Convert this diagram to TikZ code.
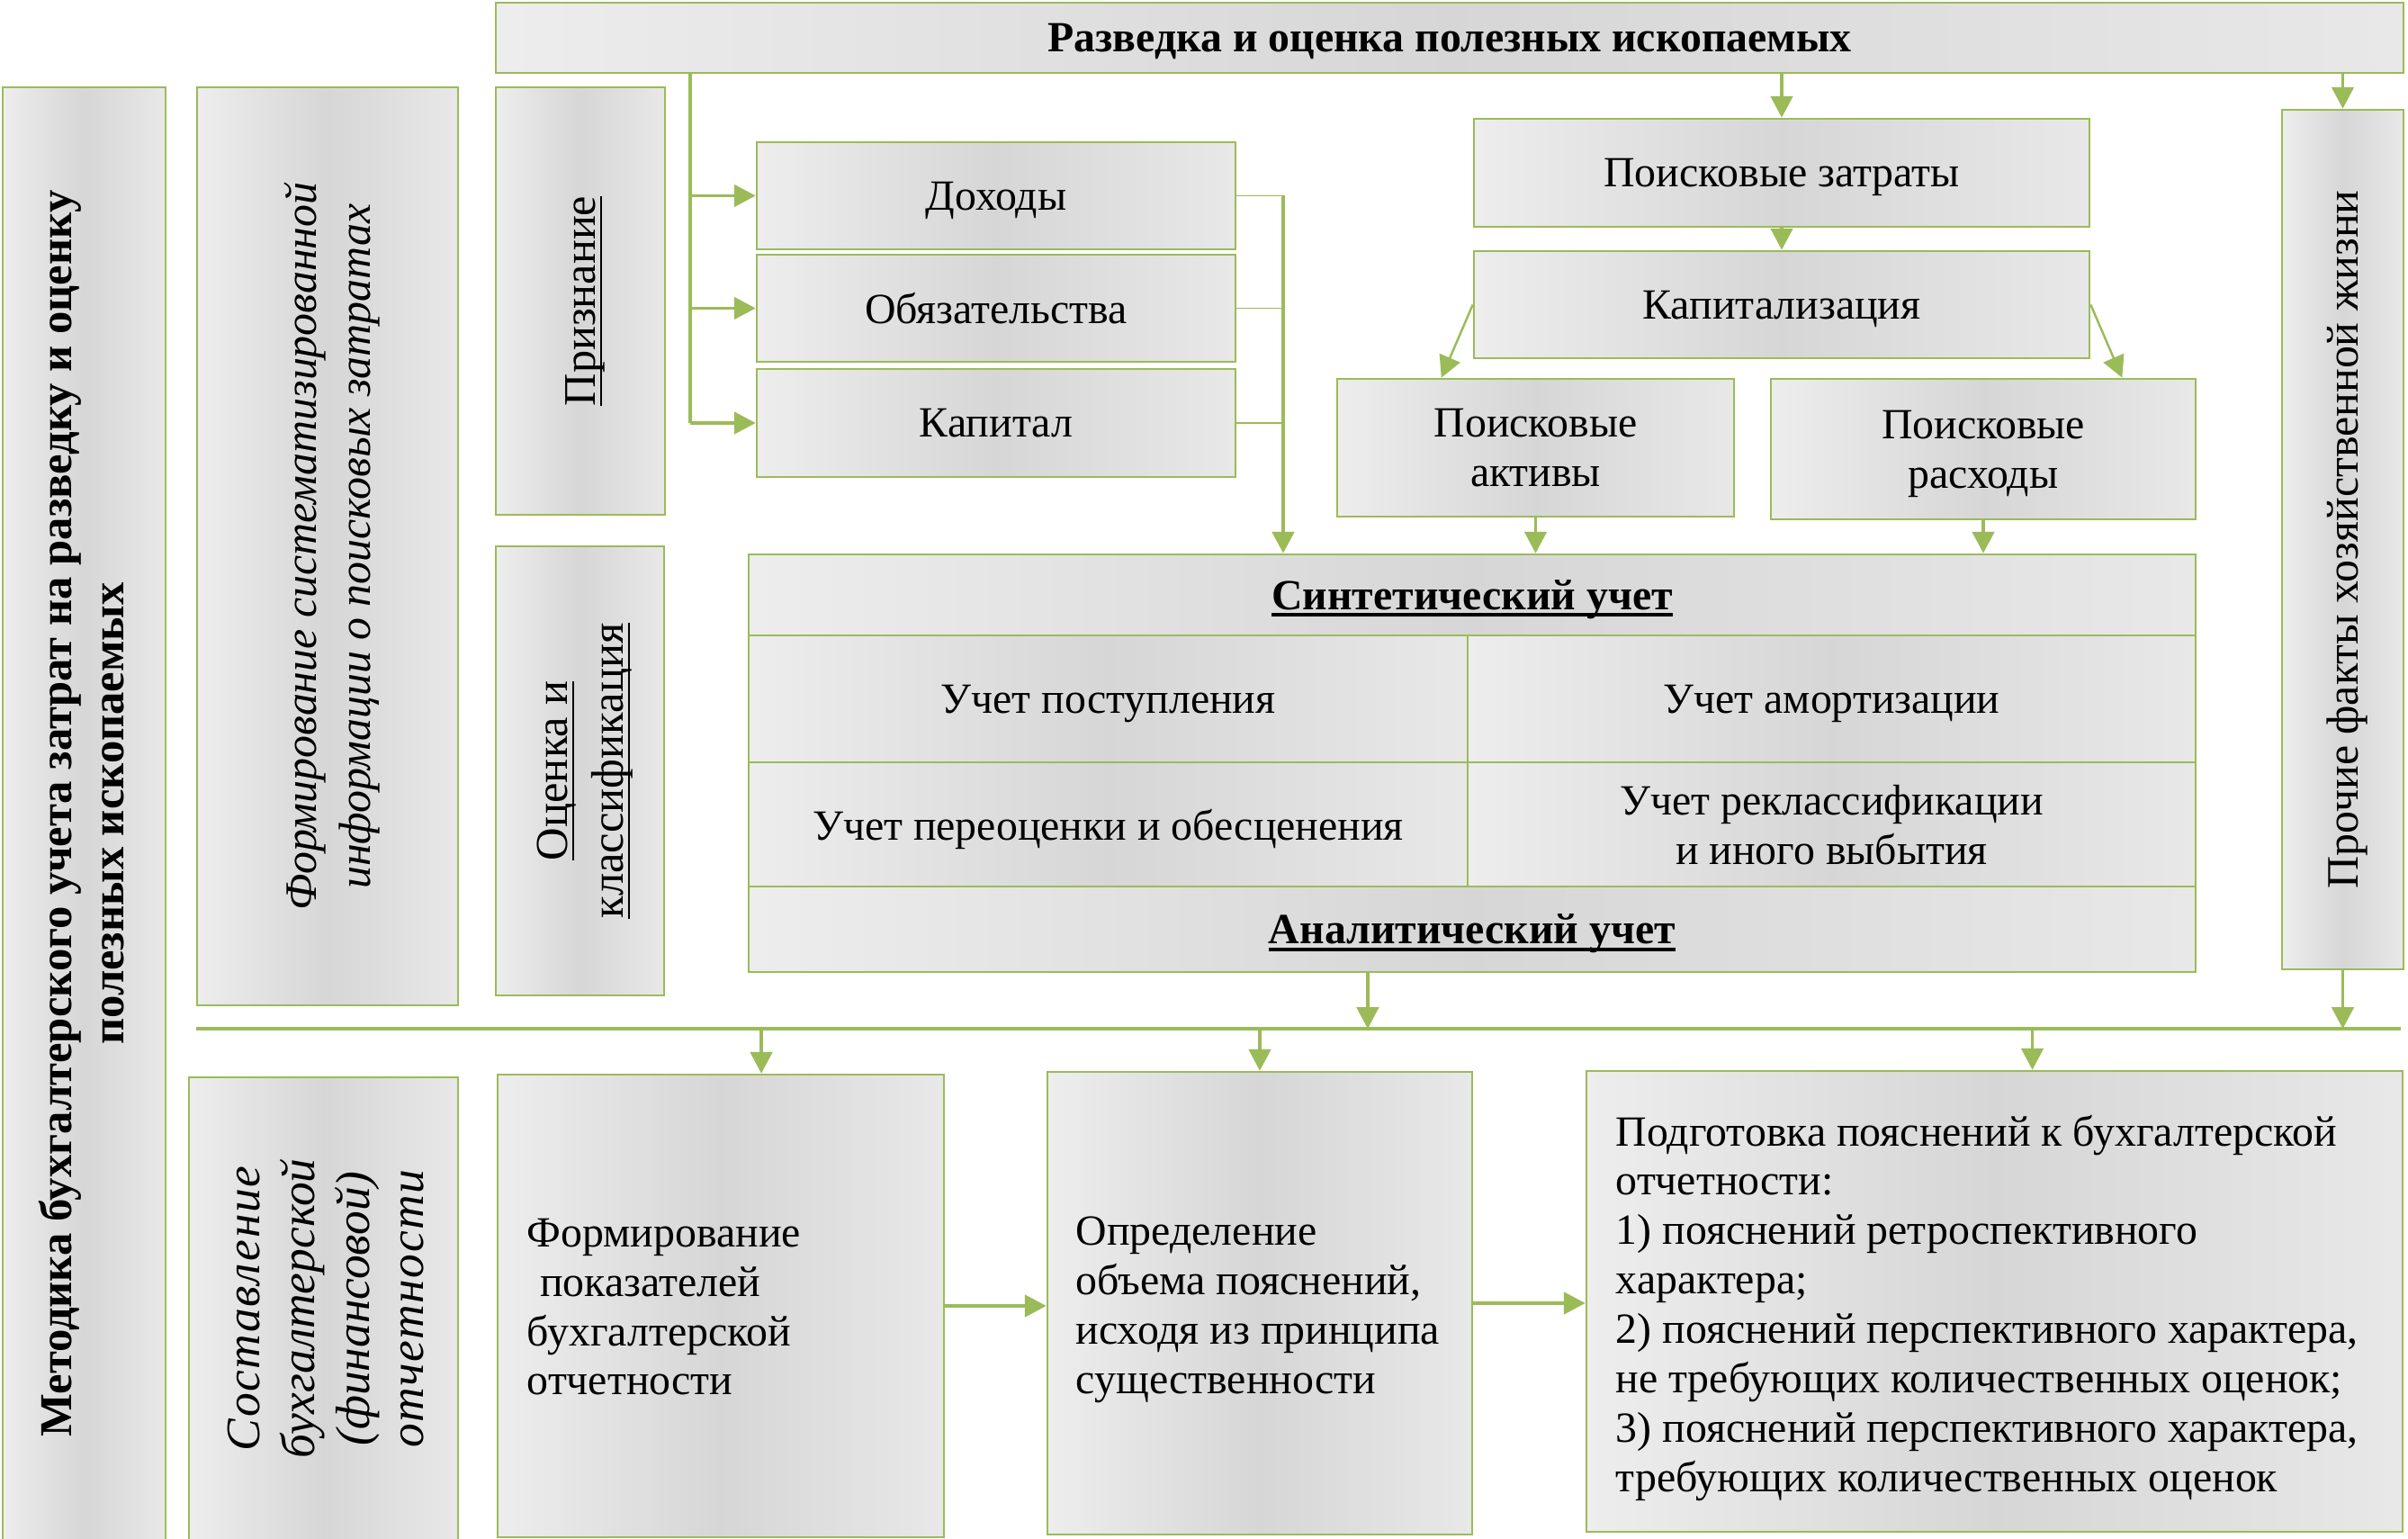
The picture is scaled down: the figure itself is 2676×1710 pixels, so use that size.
\documentclass[tikz,border=0pt]{standalone}
\usepackage{fontspec}
\setmainfont{Liberation Serif}
\usetikzlibrary{arrows.meta,calc}
\definecolor{grn}{RGB}{155,187,89}
\newcommand\ulin[2]{\setbox0=\hbox{#2}\rlap{\rule[-2.2pt]{\wd0}{#1}}\box0}
\newcommand\lsp[2]{{\addfontfeature{LetterSpace=#1}#2}}
\newcommand\Bx[7][]{\node[bx,minimum width={(#5-#3)*0.01cm},minimum height={(#6-#4)*0.01cm},#1] (#2) at ({(#3+#5)/2},{(#4+#6)/2}) {#7};}
\tikzset{
  bx/.style={draw=grn, line width=0.75pt, left color=black!7, right color=black!9, middle color=black!16,
    inner sep=0pt, align=center, text depth=0pt, font=\fontsize{13.6}{15.6}\selectfont},
  txt/.style={inner sep=0pt, text depth=0pt, font=\fontsize{13.6}{15.6}\selectfont},
  rtxt/.style={inner sep=0pt, rotate=90, align=center, text depth=0pt},
  ln/.style={draw=grn, line width=0.9pt},
  thinln/.style={draw=grn, line width=0.55pt},
  arr/.style={draw=grn, line width=0.9pt, -{Triangle[length=6.8pt,width=7pt,fill=grn]}},
  arrthin/.style={draw=grn, line width=0.7pt, -{Triangle[length=6.8pt,width=7pt,fill=grn]}},
}
\begin{document}
\begin{tikzpicture}[x=0.01cm,y=-0.01cm]
\useasboundingbox (0,0) rectangle (2676,1710);
\fill[white] (0,0) rectangle (2676,1710);
% boxes
\Bx{top}{551}{3}{2671}{81}{\textbf{Разведка и оценка полезных ископаемых}}
\Bx{left}{3}{97}{184}{1730}{}
\Bx{fs}{219}{97}{509}{1117}{}
\Bx{priz}{551}{97}{739}{572}{}
\Bx{ocen}{551}{607}{738}{1106}{}
\Bx{doh}{841}{158}{1373}{277}{Доходы}
\Bx{obz}{841}{283}{1373}{402}{Обязательства}
\Bx{kapt}{841}{410}{1373}{530}{Капитал}
\Bx{pz}{1638}{132}{2322}{252}{Поисковые затраты}
\Bx{kap}{1638}{279}{2322}{398}{Капитализация}
\Bx{pa}{1486}{421}{1927}{574}{Поисковые\\активы}
\Bx{pr}{1968}{421}{2440}{577}{Поисковые\\расходы}
\Bx{syn}{832}{616}{2440}{706}{\textbf{\ulin{1.1pt}{Синтетический учет}}}
\Bx{c1}{832}{706}{1631}{847}{Учет поступления}
\Bx{c2}{1631}{706}{2440}{847}{Учет амортизации}
\Bx{c3}{832}{847}{1631}{985}{Учет переоценки и обесценения}
\Bx{c4}{1631}{847}{2440}{985}{Учет реклассификации\\и иного выбытия}
\Bx{anl}{832}{985}{2440}{1080}{\textbf{\ulin{1.1pt}{Аналитический учет}}}
\Bx{proc}{2536}{122}{2671}{1077}{}
\Bx{sost}{210}{1197}{509}{1730}{}
\Bx{fp}{553}{1194}{1049}{1708}{}
\Bx{opr}{1164}{1191}{1636}{1705}{}
\Bx{pod}{1763}{1190}{2670}{1702}{}
% rotated texts
\node[rtxt, font=\bfseries\fontsize{14.4}{16.5}\selectfont] (left-t) at (90,904)
  {Методика бухгалтерского учета затрат на разведку и оценку\\полезных ископаемых};
\node[rtxt, font=\itshape\fontsize{14.2}{17}\selectfont] (fs-t) at (fs.center)
  {Формирование систематизированной\\информации о поисковых затратах};
\node[rtxt, font=\fontsize{14.3}{15.6}\selectfont] (priz-t) at (priz.center) {\ulin{0.6pt}{Признание}};
\node[rtxt, font=\fontsize{14.4}{17.5}\selectfont] (ocen-t) at (ocen.center)
  {\ulin{0.6pt}{Оценка и}\\\ulin{0.6pt}{классификация}};
\node[rtxt, font=\fontsize{14.2}{15.6}\selectfont] (proc-t) at (proc.center) {Прочие факты хозяйственной жизни};
\node[rtxt, font=\itshape\fontsize{15.2}{17.3}\selectfont] (sost-t) at (362,1454)
  {\lsp{3}{Составление}\\бухгалтерской\\(финансовой)\\\lsp{3}{отчетности}};
% left-aligned texts
\node[txt, anchor=west, align=left] (fp-t) at (585,1452)
  {Формирование\\\hspace*{0.3em}показателей\\бухгалтерской\\отчетности};
\node[txt, anchor=west, align=left] (opr-t) at (1195,1450)
  {Определение\\объема пояснений,\\исходя из принципа\\существенности};
\node[txt, anchor=west, align=left] (pod-t) at (1795,1448)
  {Подготовка пояснений к бухгалтерской\\отчетности:\\1) пояснений ретроспективного\\характера;\\2) пояснений перспективного характера,\\не требующих количественных оценок;\\3) пояснений перспективного характера,\\требующих количественных оценок};
% connectors: left column
\coordinate (vlx) at (767,500);
\draw[ln] (top.south -| vlx) -- (kapt.west -| vlx);
\draw[arr] (doh.west -| vlx) -- (doh.west);
\draw[arr] (obz.west -| vlx) -- (obz.west);
\draw[arr] (kapt.west -| vlx) -- (kapt.west);
\coordinate (rlx) at (1426,500);
\draw[thinln] (doh.east) -- (doh.east -| rlx);
\draw[thinln] (obz.east) -- (obz.east -| rlx);
\draw[thinln] (kapt.east) -- (kapt.east -| rlx);
\draw[arr] (doh.east -| rlx) -- (syn.north -| rlx);
% search costs
\draw[arr] (pz.north |- top.south) -- (pz.north);
\draw[arr] (pz.south) -- (kap.north);
\draw[arrthin] (kap.west) -- ([xshift=1.17cm]pa.north west);
\draw[arrthin] (kap.east) -- ([xshift=-0.83cm]pr.north east);
\draw[arr] (pa.south) -- (pa.south |- syn.north);
\draw[arr] (pr.south) -- (pr.south |- syn.north);
\draw[arr] (proc.north |- top.south) -- (proc.north);
% horizontal bus
\coordinate (hlL) at (218,1143);
\coordinate (hlR) at (2668,1143);
\draw[ln] (hlL) -- (hlR);
\coordinate (anout) at ([xshift=-1.16cm]anl.south);
\draw[arr] (anout) -- (anout |- hlL);
\draw[arr] (proc.south) -- (proc.south |- hlL);
\coordinate (fpin) at ([xshift=0.45cm]fp.north);
\coordinate (podin) at ([xshift=0.42cm]pod.north);
\draw[arr] (fpin |- hlL) -- (fpin);
\draw[arr] (opr.north |- hlL) -- (opr.north);
\draw[arr] (podin |- hlL) -- (podin);
\draw[arr] (fp.east) -- (fp.east -| opr.west);
\draw[arr] (opr.east) -- (opr.east -| pod.west);
\end{tikzpicture}
\end{document}
